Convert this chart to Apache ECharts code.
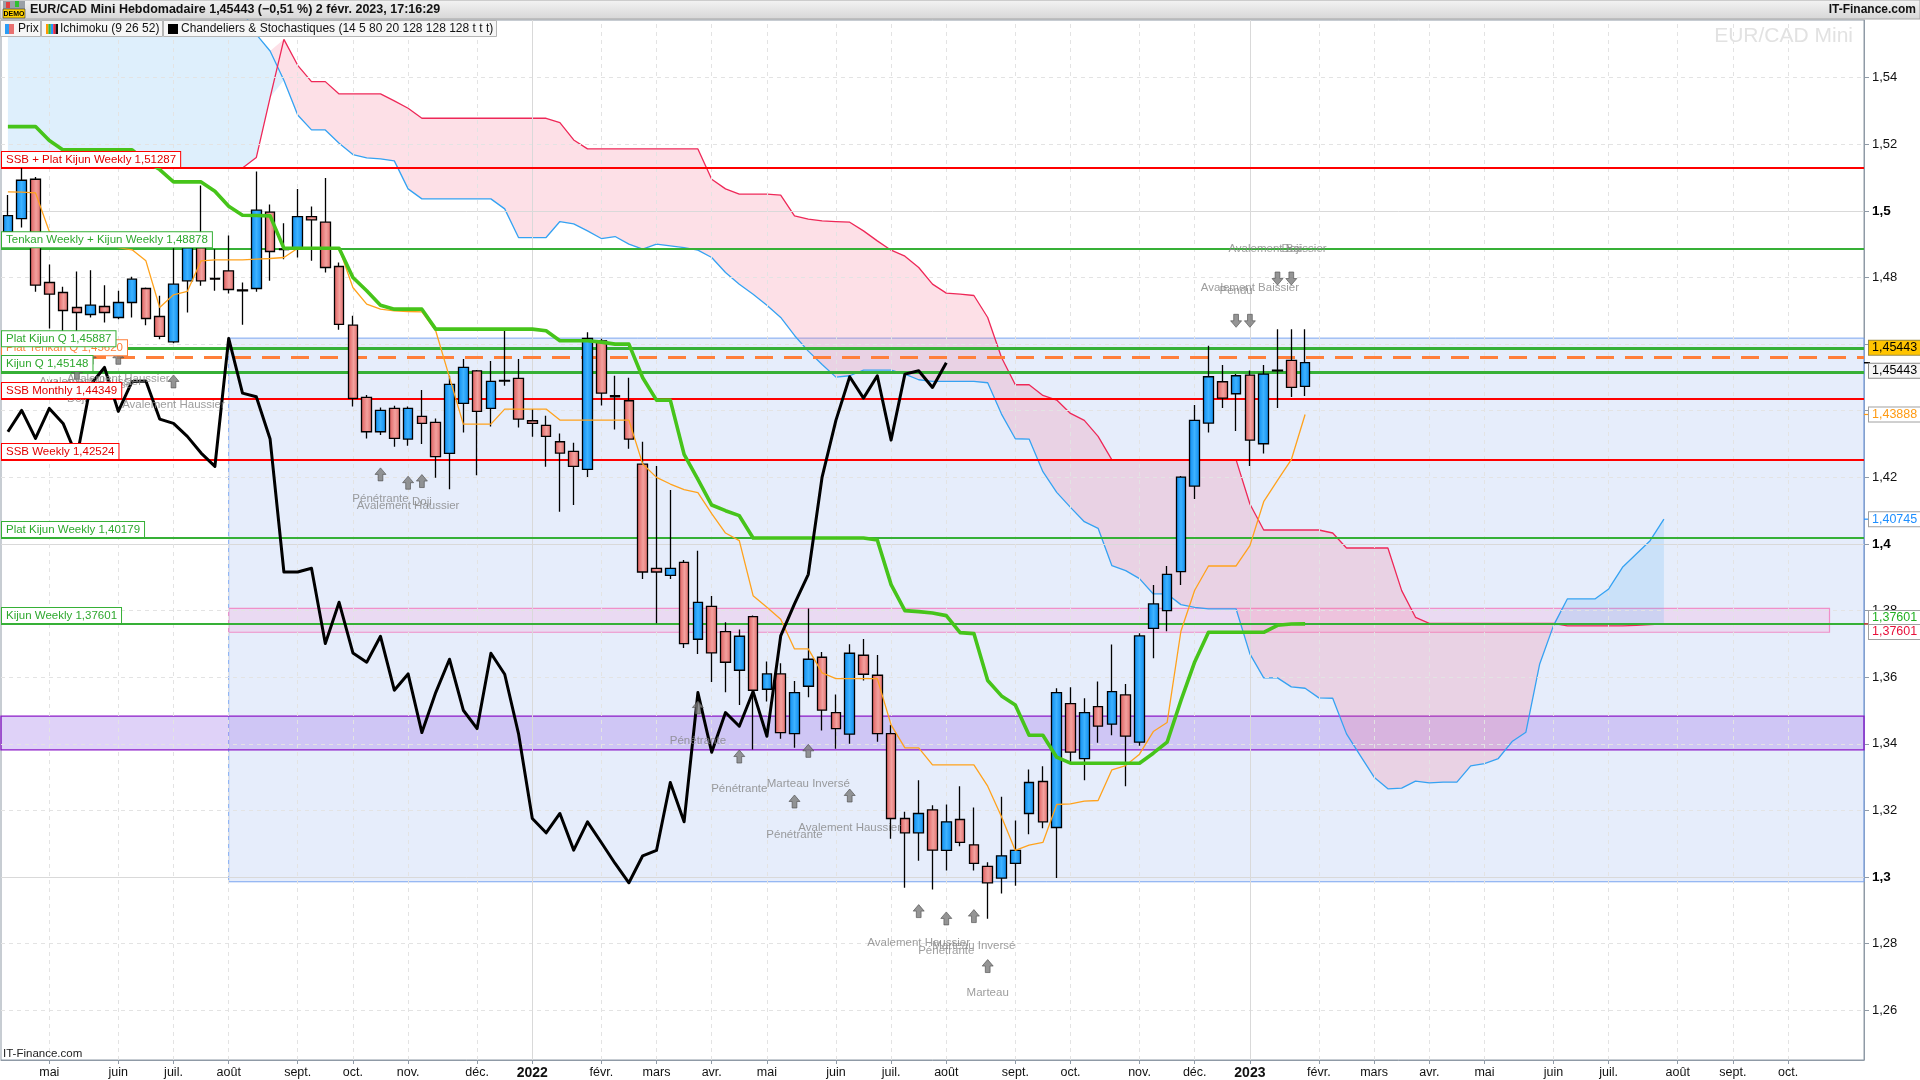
<!DOCTYPE html>
<html lang="fr">
<head>
<meta charset="utf-8">
<title>EUR/CAD Mini Hebdomadaire</title>
<script src="https://cdn.jsdelivr.net/npm/echarts@6.0.0/dist/echarts.min.js"></script>
<style>
html,body{margin:0;padding:0;background:#fff;}
#chart{width:1920px;height:1080px;}
</style>
</head>
<body>
<div id="chart"></div>
<script>
// ================= DATA =================
const firstWeek = '2021-04-12';   // Monday of the first weekly candle
const weekCount = 135;            // weeks on the axis (incl. future cloud)
const categories = [];
(function () {
  const t0 = Date.parse(firstWeek + 'T00:00:00Z');
  for (let i = 0; i < weekCount; i++) categories.push(new Date(t0 + i * 604800000).toISOString().slice(0, 10));
})();

const monthTickIndex = [3,8,12,16,21,25,29,34,38,43,47,51,55,60,64,68,73,77,82,86,90,95,99,103,107,112,116,121,125,129];
const monthTickText  = ['mai','juin','juil.','août','sept.','oct.','nov.','déc.','2022','févr.','mars','avr.','mai','juin','juil.','août','sept.','oct.','nov.','déc.','2023','févr.','mars','avr.','mai','juin','juil.','août','sept.','oct.'];
const yTickValues  = [1.26,1.28,1.30,1.32,1.34,1.36,1.38,1.40,1.42,1.44,1.46,1.48,1.50,1.52,1.54];
const yLabelValues = [1.26,1.28,1.30,1.32,1.34,1.36,1.38,1.40,1.42,1.48,1.50,1.52,1.54];

const opens = [1.4937,1.4977,1.5095,1.4785,1.4755,1.4710,1.4689,1.4713,1.4680,1.4725,
 1.4767,1.4683,1.4607,1.4790,1.4889,1.4797,1.4820,1.4763,1.4767,1.4996,
 1.4886,1.4885,1.4983,1.4966,1.4833,1.4657,1.4440,1.4337,1.4407,1.4315,
 1.4383,1.4365,1.4272,1.4422,1.4520,1.4407,1.4491,1.4497,1.4370,1.4356,
 1.4307,1.4278,1.4224,1.4610,1.4445,1.4430,1.4240,1.3927,1.3906,1.3945,
 1.3714,1.3813,1.3737,1.3621,1.3782,1.3564,1.3610,1.3431,1.3573,1.3660,
 1.3494,1.3429,1.3666,1.3606,1.3431,1.3176,1.3133,1.3202,1.3080,1.3173,
 1.3097,1.3032,1.2997,1.3041,1.3191,1.3287,1.3149,1.3521,1.3356,1.3512,
 1.3459,1.3547,1.3405,1.3747,1.3800,1.3917,1.4174,1.4363,1.4487,1.4451,
 1.4507,1.4301,1.4522,1.4551,1.4473];
const closes = [1.4986,1.5092,1.4777,1.4750,1.4701,1.4695,1.4717,1.4695,1.4725,1.4795,
 1.4677,1.4623,1.4780,1.4889,1.4790,1.4795,1.4764,1.4760,1.5002,1.4878,
 1.4884,1.4983,1.4973,1.4830,1.4659,1.4437,1.4337,1.4401,1.4317,1.4407,
 1.4362,1.4262,1.4479,1.4530,1.4398,1.4488,1.4489,1.4375,1.4362,1.4323,
 1.4273,1.4233,1.4617,1.4453,1.4442,1.4315,1.3916,1.3916,1.3927,1.3701,
 1.3825,1.3673,1.3645,1.3723,1.3561,1.3610,1.3434,1.3554,1.3654,1.3501,
 1.3446,1.3672,1.3609,1.3431,1.3176,1.3133,1.3191,1.3081,1.3166,1.3104,
 1.3041,1.2983,1.3064,1.3080,1.3284,1.3166,1.3554,1.3375,1.3494,1.3453,
 1.3557,1.3423,1.3724,1.3820,1.3909,1.4201,1.4371,1.4502,1.4438,1.4505,
 1.4312,1.4510,1.4520,1.4470,1.45443];
const lows = [1.4915,1.4950,1.4757,1.4647,1.4637,1.4630,1.4680,1.4665,1.4675,1.4680,
 1.4657,1.4615,1.4603,1.4695,1.4775,1.4760,1.4752,1.4658,1.4757,1.4790,
 1.4855,1.4860,1.4850,1.4815,1.4643,1.4413,1.4317,1.4327,1.4292,1.4295,
 1.4300,1.4199,1.4164,1.4335,1.4206,1.4353,1.4475,1.4350,1.4322,1.4232,
 1.4097,1.4117,1.4201,1.4416,1.4344,1.4286,1.3895,1.3762,1.3895,1.3688,
 1.3670,1.3586,1.3555,1.3517,1.3383,1.3527,1.3415,1.3388,1.3540,1.3440,
 1.3385,1.3400,1.3590,1.3406,1.3115,1.2968,1.3049,1.2963,1.3020,1.3093,
 1.3020,1.2875,1.2951,1.2974,1.3129,1.3147,1.2997,1.3342,1.3291,1.3403,
 1.3426,1.3273,1.3394,1.3657,1.3738,1.3877,1.4135,1.4335,1.4408,1.4339,
 1.4234,1.4272,1.4408,1.4441,1.4444];
const highs = [1.5048,1.5135,1.5102,1.4839,1.4772,1.4818,1.4822,1.4777,1.4760,1.4802,
 1.4770,1.4745,1.4890,1.4911,1.5076,1.4885,1.4926,1.4785,1.5118,1.5019,
 1.4963,1.5066,1.5013,1.5099,1.4845,1.4685,1.4447,1.4410,1.4415,1.4413,
 1.4462,1.4377,1.4505,1.4555,1.4522,1.4549,1.4645,1.4555,1.4405,1.4385,
 1.4332,1.4304,1.4636,1.4616,1.4505,1.4499,1.4307,1.4234,1.4162,1.3952,
 1.3980,1.3844,1.3765,1.3743,1.3785,1.3647,1.3642,1.3589,1.3806,1.3676,
 1.3548,1.3699,1.3715,1.3667,1.3457,1.3196,1.3291,1.3216,1.3218,1.3273,
 1.3209,1.3045,1.3241,1.3170,1.3323,1.3333,1.3567,1.3570,1.3537,1.3587,
 1.3698,1.3580,1.3732,1.3877,1.3934,1.4204,1.4417,1.4595,1.4537,1.4510,
 1.4521,1.4537,1.4645,1.4645,1.4645];

const tenkan = [1.5057,1.5056,1.5054,1.4938,1.4930,1.4920,1.4905,1.4895,1.4890,1.4883,
 1.4850,1.4710,1.4748,1.4758,1.4850,1.4853,1.4853,1.4853,1.4855,1.4857,
 1.4860,1.48878,1.48878,1.48878,1.48878,1.4770,1.4720,1.4705,1.4700,1.4698,
 1.4697,1.4640,1.4500,1.4360,1.4360,1.4360,1.4405,1.4405,1.4405,1.4405,
 1.4372,1.4372,1.4372,1.4372,1.4372,1.4372,1.4240,1.4200,1.4180,1.4163,
 1.4154,1.4091,1.4033,1.4010,1.3845,1.3810,1.3774,1.3685,1.3685,1.3613,
 1.3596,1.3596,1.3596,1.3596,1.3457,1.3388,1.3388,1.3337,1.3337,1.3337,
 1.3337,1.3273,1.3181,1.3080,1.3096,1.3104,1.3218,1.3220,1.3228,1.3230,
 1.3322,1.3335,1.3369,1.3437,1.3464,1.3738,1.3861,1.3934,1.3934,1.3934,
 1.3995,1.4127,1.4191,1.4253,1.43888];
const kijun = [1.5253,1.5253,1.5253,1.5211,1.5183,1.5183,1.5183,1.5183,1.5183,1.5183,
 1.5149,1.5124,1.5087,1.5087,1.5087,1.5059,1.5014,1.4987,1.4986,1.4985,
 1.48878,1.48878,1.48878,1.48878,1.48878,1.4800,1.4760,1.4717,1.4705,1.4705,
 1.4705,1.4645,1.4645,1.4645,1.4645,1.4645,1.4645,1.4645,1.4645,1.4640,
 1.4610,1.4610,1.4610,1.4606,1.4600,1.4600,1.4499,1.4432,1.4432,1.4269,
 1.4194,1.4117,1.4100,1.4085,1.40179,1.40179,1.40179,1.40179,1.40179,1.40179,
 1.40179,1.40179,1.40179,1.4012,1.3878,1.3800,1.3797,1.3793,1.3785,1.3734,
 1.3731,1.3590,1.3544,1.3517,1.3426,1.3426,1.3360,1.3342,1.3342,1.3342,
 1.3342,1.3342,1.3342,1.3372,1.3405,1.3530,1.3646,1.3735,1.3735,1.3735,
 1.3735,1.3735,1.3756,1.3760,1.37601];
// Senkou span A / B (already shifted 26 weeks ahead), index 0..120
const senkouA = [1.5600,1.5600,1.5600,1.5600,1.5600,1.5600,1.5600,1.5600,1.5600,1.5600,
 1.5600,1.5600,1.5600,1.5600,1.5600,1.5600,1.5600,1.5600,1.5530,1.5480,
 1.5392,1.5288,1.5243,1.5243,1.5203,1.5169,1.5159,1.5156,1.5150,1.5066,
 1.5036,1.5036,1.5036,1.5036,1.5036,1.5036,1.5006,1.4920,1.4920,1.4920,
 1.4968,1.4961,1.4940,1.4917,1.4923,1.4900,1.4885,1.4900,1.4895,1.4890,
 1.4882,1.4860,1.4815,1.4780,1.4750,1.4717,1.4680,1.4626,1.4579,1.4539,
 1.4501,1.4505,1.4522,1.4522,1.4522,1.4510,1.4493,1.4488,1.4488,1.4488,
 1.4488,1.4484,1.4390,1.4316,1.4315,1.4217,1.4155,1.4110,1.4067,1.4047,
 1.3935,1.3920,1.3896,1.3850,1.3850,1.3818,1.3810,1.3805,1.3805,1.3805,
 1.3670,1.3598,1.3598,1.3571,1.3567,1.3538,1.3537,1.3430,1.3365,1.3300,
 1.3265,1.3267,1.3288,1.3283,1.3285,1.3285,1.3334,1.3341,1.3356,1.3407,
 1.3435,1.3640,1.3755,1.3835,1.3835,1.3835,1.3865,1.3930,1.3970,1.4010,
 1.40745];
const senkouB = [1.51287,1.51287,1.51287,1.51287,1.51287,1.51287,1.51287,1.51287,1.51287,1.51287,
 1.51287,1.51287,1.51287,1.51287,1.51287,1.51287,1.51287,1.51287,1.5160,1.5340,
 1.5515,1.5437,1.5388,1.5388,1.5351,1.5351,1.5351,1.5351,1.5330,1.5308,
 1.5278,1.5278,1.5278,1.5278,1.5278,1.5278,1.5278,1.5278,1.5278,1.5278,
 1.5265,1.5213,1.5186,1.5186,1.5186,1.5186,1.5186,1.5186,1.5186,1.5186,
 1.5186,1.5095,1.5066,1.5050,1.5050,1.5050,1.5047,1.4985,1.4975,1.4970,
 1.4968,1.4966,1.4940,1.4910,1.4882,1.4864,1.4830,1.4780,1.4753,1.4750,
 1.4746,1.4680,1.4560,1.4478,1.4478,1.4446,1.4432,1.4392,1.4371,1.4323,
 1.42524,1.42524,1.42524,1.42524,1.42524,1.42524,1.42524,1.42524,1.42524,1.42524,
 1.4120,1.4042,1.4042,1.4042,1.4042,1.4042,1.4033,1.3988,1.3988,1.3988,
 1.3988,1.3860,1.3780,1.3762,1.3762,1.3762,1.3762,1.3762,1.3762,1.3762,
 1.3762,1.3762,1.3762,1.3754,1.3754,1.3754,1.3754,1.3754,1.3756,1.3758,
 1.37601];
// Chikou span = close plotted 26 weeks back
const chikouLag = 26;

// Horizontal levels (drawing order: orange label sits behind its neighbours)
const levelValues = [1.51287, 1.48878, 1.45620, 1.45887, 1.45148, 1.44349, 1.42524, 1.40179, 1.37601];
const levelNames  = ['SSB + Plat Kijun Weekly 1,51287','Tenkan Weekly + Kijun Weekly 1,48878','Plat Tenkan Q 1,45620','Plat Kijun Q 1,45887','Kijun Q 1,45148','SSB Monthly 1,44349','SSB Weekly 1,42524','Plat Kijun Weekly 1,40179','Kijun Weekly 1,37601'];
const levelKinds  = ['red','green','orange','greenQ','greenQ','red','red','green','green'];

// Zones: [fromWeek, toWeek, top, bottom]
const zoneBoxes = [[16,134,1.4618,1.2986],[16,132,1.3807,1.3735],[0,134,1.3483,1.3382]];

// Candle pattern markers
const upArrows   = [[5,1.4514],[6,1.4559],[8,1.4559],[12,1.4488],[27,1.4209],[29,1.4184],[30,1.4189],[50,1.3509],[53,1.3362],[57,1.3227],[58,1.3379],[61,1.3245],[66,1.2898],[68,1.2876],[70,1.2883],[71,1.2733]];
const downArrows = [[89,1.4670],[90,1.4670],[92,1.4797],[93,1.4797]];
const patternLabels = [[5,1.4437,'Doji'],[6,1.4486,'Avalement Haussier'],[6,1.4479,'Marteau Inversé'],[8,1.4497,'Avalement Haussier'],[12,1.4417,'Avalement Haussier'],
 [27,1.4136,'Pénétrante'],[29,1.4114,'Avalement Haussier'],[30,1.4126,'Doji'],[50,1.3409,'Pénétrante'],[53,1.3264,'Pénétrante'],
 [58,1.3279,'Marteau Inversé'],[57,1.3126,'Pénétrante'],[61,1.3147,'Avalement Haussier'],[66,1.2803,'Avalement Haussier'],[68,1.2780,'Pénétrante'],
 [70,1.2795,'Marteau Inversé'],[71,1.2652,'Marteau'],[89,1.4761,'Pendu'],[90,1.4768,'Avalement Baissier'],[92,1.4886,'Avalement Baissier'],[93,1.4886,'Doji']];

// Right-hand price tags
const tagValues = [1.45443, 1.45443, 1.43888, 1.40745, 1.37601, 1.37601];
const tagTexts  = ['1,45443','1,45443','1,43888','1,40745','1,37601','1,37601'];

// ================= BUILD =================
const FONT = "'Liberation Sans', Arial, sans-serif";
const NARROW = "'Liberation Sans Narrow', 'Liberation Sans', Arial, sans-serif";
const tickMap = {};
monthTickIndex.forEach((idx, k) => { tickMap[idx] = monthTickText[k]; });
const isTick = (i) => tickMap[i] !== undefined;

const candleData = opens.map((o, i) => [o, closes[i], lows[i], highs[i]]);
const chikou = closes.slice(chikouLag);
const kumoBase = senkouA.map((a, i) => Math.min(a, senkouB[i]));
const kumoBull = senkouA.map((a, i) => Math.max(a - senkouB[i], 0));
const kumoBear = senkouA.map((a, i) => Math.max(senkouB[i] - a, 0));

const levelStyle = {
  red:    {color: '#FF0000', width: 2,   type: 'solid', text: '#E00000'},
  green:  {color: '#36B036', width: 2,   type: 'solid', text: '#2EA82E'},
  greenQ: {color: '#36B036', width: 3.2, type: 'solid', text: '#2EA82E'},
  orange: {color: '#FF7F3A', width: 3,   type: [18, 11], text: '#FF7F3A'}
};
const zoneStyles = [
  {fill: 'rgba(185,205,245,0.36)', stroke: '#7AA5F0', lw: 1},
  {fill: 'rgba(245,170,220,0.28)', stroke: '#F090C8', lw: 1.2},
  {fill: 'rgba(165,130,235,0.36)', stroke: '#8A18C8', lw: 1.3}
];

const gridLineData = [];
yTickValues.forEach(v => {
  const major = Math.abs(v * 10 - Math.round(v * 10)) < 1e-6;
  gridLineData.push({yAxis: v, lineStyle: {color: major ? '#D9D9D9' : '#E3E3E3', width: 1, type: major ? 'solid' : [4, 4]}});
});
monthTickIndex.forEach((idx, k) => {
  const year = /^\d{4}$/.test(monthTickText[k]);
  gridLineData.push({xAxis: categories[idx], lineStyle: {color: year ? '#D9D9D9' : '#E3E3E3', width: 1, type: year ? 'solid' : [4, 4]}});
});

const levelLineData = levelValues.map((v, k) => {
  const st = levelStyle[levelKinds[k]];
  return {yAxis: v, name: levelNames[k], lineStyle: {color: st.color, width: st.width, type: st.type}};
});

const upPath = 'path://M6,0L12,7L8.6,7L8.6,14L3.4,14L3.4,7L0,7Z';

const blueFill = new echarts.graphic.LinearGradient(0, 0, 1, 0, [
  {offset: 0, color: '#0B8AEE'}, {offset: 0.5, color: '#3DB2FF'}, {offset: 1, color: '#0B8AEE'}]);
const redFill = new echarts.graphic.LinearGradient(0, 0, 1, 0, [
  {offset: 0, color: '#DD5A5A'}, {offset: 0.55, color: '#F3A19E'}, {offset: 1, color: '#E06A68'}]);

const chart = echarts.init(document.getElementById('chart'));

const option = {
  animation: false,
  backgroundColor: '#ffffff',
  grid: {left: 1, right: 56, top: 20, bottom: 18, show: true, borderColor: '#8F9AA6', borderWidth: 1},
  xAxis: {
    type: 'category', data: categories, boundaryGap: true,
    axisLine: {show: true, lineStyle: {color: '#8F9AA6'}},
    axisTick: {show: true, alignWithLabel: true, interval: (i) => isTick(i), length: 4, lineStyle: {color: '#8F9AA6'}},
    axisLabel: {
      show: true, interval: (i) => isTick(i), margin: 6,
      formatter: (v, i) => { const t = tickMap[i] || ''; return /^\d{4}$/.test(t) ? '{y|' + t + '}' : t; },
      color: '#111', fontSize: 12.5, fontFamily: NARROW,
      rich: {y: {fontWeight: 'bold', fontSize: 14, fontFamily: NARROW, color: '#111'}}
    },
    splitLine: {show: false}
  },
  yAxis: {
    type: 'value', position: 'right', min: 1.2451, max: 1.5573,
    axisLine: {show: true, lineStyle: {color: '#8F9AA6'}},
    axisTick: {show: true, customValues: yTickValues, length: 5, lineStyle: {color: '#8F9AA6'}},
    axisLabel: {
      show: true, customValues: yLabelValues, margin: 8, color: '#111', fontSize: 13, fontFamily: FONT,
      formatter: (v) => {
        const s = String(Math.round(v * 100) / 100).replace('.', ',');
        return Math.abs(v * 10 - Math.round(v * 10)) < 1e-6 ? '{b|' + s + '}' : s;
      },
      rich: {b: {fontWeight: 'bold', fontSize: 13.5, fontFamily: FONT, color: '#000'}}
    },
    splitLine: {show: false}
  },
  series: [
    { // grid lines
      type: 'line', name: 'grille', data: [], silent: true, z: 0,
      markLine: {silent: true, symbol: ['none', 'none'], precision: 6, label: {show: false}, animation: false, data: gridLineData}
    },
    { // zones
      type: 'custom', name: 'zones', silent: true, z: 1,
      encode: {x: [0, 1], y: [2, 3]},
      data: zoneBoxes,
      renderItem: (params, api) => {
        const x0 = api.value(0), x1 = api.value(1);
        const cs = params.coordSys;
        const p0 = api.coord([x0, api.value(2)]);
        const p1 = api.coord([x1, api.value(3)]);
        const left = x0 <= 0 ? cs.x : p0[0];
        const right = x1 >= weekCount - 1 ? cs.x + cs.width : p1[0];
        const st = zoneStyles[params.dataIndex];
        return {type: 'rect', shape: {x: left, y: p0[1], width: right - left, height: p1[1] - p0[1]},
          style: {fill: st.fill, stroke: st.stroke, lineWidth: st.lw}};
      }
    },
    {type: 'line', name: 'kumoBase', data: kumoBase, stack: 'kumo', symbol: 'none', silent: true, z: 2, lineStyle: {opacity: 0, width: 0}},
    {type: 'line', name: 'kumoBull', data: kumoBull, stack: 'kumo', symbol: 'none', silent: true, z: 2, lineStyle: {opacity: 0, width: 0}, areaStyle: {color: 'rgba(100,180,240,0.30)'}},
    {type: 'line', name: 'kumoBear', data: kumoBear, stack: 'kumo', symbol: 'none', silent: true, z: 2, lineStyle: {opacity: 0, width: 0}, areaStyle: {color: 'rgba(245,120,150,0.33)'}},
    {type: 'line', name: 'SSA', data: senkouA, symbol: 'none', silent: true, z: 3, lineStyle: {color: '#35A2F2', width: 1.3}},
    {type: 'line', name: 'SSB', data: senkouB, symbol: 'none', silent: true, z: 3, lineStyle: {color: '#EE2858', width: 1.3}},
    {
      type: 'candlestick', name: 'Prix', data: candleData, barWidth: 10, silent: true, z: 5,
      itemStyle: {color: blueFill, color0: redFill, borderColor: '#000', borderColor0: '#000', borderWidth: 1.3}
    },
    {type: 'line', name: 'Tenkan', data: tenkan, symbol: 'none', silent: true, z: 6, lineStyle: {color: '#FFA21C', width: 1.3}},
    {type: 'line', name: 'Kijun', data: kijun, symbol: 'none', silent: true, z: 6, lineStyle: {color: '#46C41A', width: 3.6, join: 'round'}},
    {type: 'line', name: 'Chikou', data: chikou, symbol: 'none', silent: true, z: 6, lineStyle: {color: '#000', width: 3, join: 'round'}},
    { // levels
      type: 'line', name: 'niveaux', data: [], silent: true, z: 8,
      markLine: {silent: true, symbol: ['none', 'none'], precision: 6, animation: false, label: {show: false}, data: levelLineData}
    },
    {
      type: 'scatter', name: 'flèches hausse', silent: true, z: 9,
      data: upArrows.map(a => [categories[a[0]], a[1]]),
      symbol: upPath, symbolSize: [11, 13],
      itemStyle: {color: '#7B7B7B', borderColor: '#4E4E4E', borderWidth: 0.8}
    },
    {
      type: 'scatter', name: 'flèches baisse', silent: true, z: 9,
      data: downArrows.map(a => [categories[a[0]], a[1]]),
      symbol: upPath, symbolSize: [11, 13], symbolRotate: 180,
      itemStyle: {color: '#7B7B7B', borderColor: '#4E4E4E', borderWidth: 0.8}
    },
    {
      type: 'scatter', name: 'figures', silent: true, z: 9,
      data: patternLabels.map(p => ({value: [categories[p[0]], p[1]], name: p[2]})),
      symbol: 'circle', symbolSize: 2, itemStyle: {color: 'rgba(0,0,0,0)'},
      label: {show: true, position: 'inside', formatter: '{b}', color: '#858585', fontSize: 11.5, fontFamily: FONT}
    }
  ]
};
chart.setOption(option);

// ---------- header & decorations ----------
const yPix = (v) => chart.convertToPixel({yAxisIndex: 0}, v);
const tagStyle = [
  {dy: -15, fill: '#000', bg: '#FFC400', border: '#9B8B45', tick: '#000'},
  {dy: 8,   fill: '#000', bg: '#F5F5F5', border: '#8A8A8A', tick: '#000'},
  {dy: 0,   fill: '#FF9A12', bg: '#FFFFFF', border: '#A0A0A0', tick: '#FF9A12'},
  {dy: 0,   fill: '#1E8FFF', bg: '#FFFFFF', border: '#A0A0A0', tick: '#1E8FFF'},
  {dy: -6,  fill: '#22B022', bg: '#FFFFFF', border: '#A0A0A0', tick: '#22B022'},
  {dy: 8,   fill: '#E8103A', bg: '#FFFFFF', border: '#A0A0A0', tick: '#E8103A'}
];
const g = [];
// level labels (boxed, sitting on their line at the left edge)
levelValues.forEach((v, k) => {
  const st = levelStyle[levelKinds[k]];
  const py = yPix(v) - st.width / 2;
  g.push({type: 'text', z: 70, silent: true, style: {text: levelNames[k], x: 2, y: py, verticalAlign: 'bottom',
    font: '11.5px ' + FONT, fill: st.text, backgroundColor: '#FFFFFF', borderColor: st.color, borderWidth: 1, padding: [2, 4, 1, 4]}});
});
// row 1
g.push({type: 'rect', shape: {x: 0, y: 0, width: 1920, height: 19}, z: 100,
  style: {fill: new echarts.graphic.LinearGradient(0, 0, 0, 1, [{offset: 0, color: '#F4F4F4'}, {offset: 1, color: '#D6D6D6'}]), stroke: '#A5A5A5', lineWidth: 1}});
// DEMO icon
g.push({type: 'rect', shape: {x: 3, y: 1, width: 22, height: 17}, z: 101, style: {fill: '#9AA0A6'}});
g.push({type: 'rect', shape: {x: 6, y: 2, width: 4, height: 6}, z: 102, style: {fill: '#E04040'}});
g.push({type: 'rect', shape: {x: 15, y: 1, width: 4, height: 6}, z: 102, style: {fill: '#30C030'}});
g.push({type: 'rect', shape: {x: 3, y: 9, width: 22, height: 9}, z: 102, style: {fill: '#FFD200', stroke: '#333', lineWidth: 0.6}});
g.push({type: 'text', z: 103, style: {text: 'DEMO', x: 14, y: 13.8, align: 'center', verticalAlign: 'middle', font: 'bold 7px ' + FONT, fill: '#000'}});
g.push({type: 'text', z: 101, style: {text: 'EUR/CAD Mini Hebdomadaire 1,45443 (−0,51 %) 2 févr. 2023, 17:16:29', x: 30, y: 10, verticalAlign: 'middle', font: 'bold 12.5px ' + FONT, fill: '#111'}});
g.push({type: 'text', z: 101, style: {text: 'IT-Finance.com', x: 1916, y: 10, align: 'right', verticalAlign: 'middle', font: 'bold 12px ' + FONT, fill: '#111'}});
// row 2 legend boxes
g.push({type: 'rect', shape: {x: 0.5, y: 20.5, width: 40, height: 16}, z: 101, style: {fill: '#F6F6F6', stroke: '#B5B5B5', lineWidth: 1}});
g.push({type: 'rect', shape: {x: 41.5, y: 20.5, width: 121, height: 16}, z: 101, style: {fill: '#F6F6F6', stroke: '#B5B5B5', lineWidth: 1}});
g.push({type: 'rect', shape: {x: 163.5, y: 20.5, width: 333, height: 16}, z: 101, style: {fill: '#F6F6F6', stroke: '#B5B5B5', lineWidth: 1}});
g.push({type: 'rect', shape: {x: 5, y: 24, width: 4, height: 10}, z: 102, style: {fill: '#2A9DF4'}});
g.push({type: 'rect', shape: {x: 9, y: 24, width: 5, height: 10}, z: 102, style: {fill: '#E87070'}});
g.push({type: 'text', z: 102, style: {text: 'Prix', x: 18, y: 29, verticalAlign: 'middle', font: '12px ' + FONT, fill: '#111'}});
['#FF9900', '#33BB33', '#2299FF', '#EE2244', '#111111'].forEach((c, k) => {
  g.push({type: 'rect', shape: {x: 46 + k * 2.4, y: 24, width: 2.4, height: 10}, z: 102, style: {fill: c}});
});
g.push({type: 'text', z: 102, style: {text: 'Ichimoku (9 26 52)', x: 60, y: 29, verticalAlign: 'middle', font: '12px ' + FONT, fill: '#111'}});
g.push({type: 'rect', shape: {x: 168, y: 24, width: 10, height: 10}, z: 102, style: {fill: '#000'}});
g.push({type: 'text', z: 102, style: {text: 'Chandeliers & Stochastiques (14 5 80 20 128 128 128 t t t)', x: 181, y: 29, verticalAlign: 'middle', font: '12px ' + FONT, fill: '#111'}});
// watermark & footer
g.push({type: 'text', z: 4, silent: true, style: {text: 'EUR/CAD Mini', x: 1853, y: 36, align: 'right', verticalAlign: 'middle', font: '21px ' + FONT, fill: '#E2E2E2'}});
g.push({type: 'text', z: 50, style: {text: 'IT-Finance.com', x: 3, y: 1054, verticalAlign: 'middle', font: '11.5px ' + FONT, fill: '#222'}});
// price tags on the right axis
tagValues.forEach((v, k) => {
  const st = tagStyle[k];
  const py = yPix(v);
  g.push({type: 'line', z: 60, shape: {x1: 1864, y1: py, x2: 1870, y2: py}, style: {stroke: st.tick, lineWidth: 1.2}});
  g.push({type: 'text', z: 61, style: {text: tagTexts[k], x: 1869, y: py + st.dy, verticalAlign: 'middle', font: '12.5px ' + FONT,
    fill: st.fill, backgroundColor: st.bg, borderColor: st.border, borderWidth: 1, padding: [1, 3, 0, 3]}});
});
chart.setOption({graphic: g});
</script>
</body>
</html>
